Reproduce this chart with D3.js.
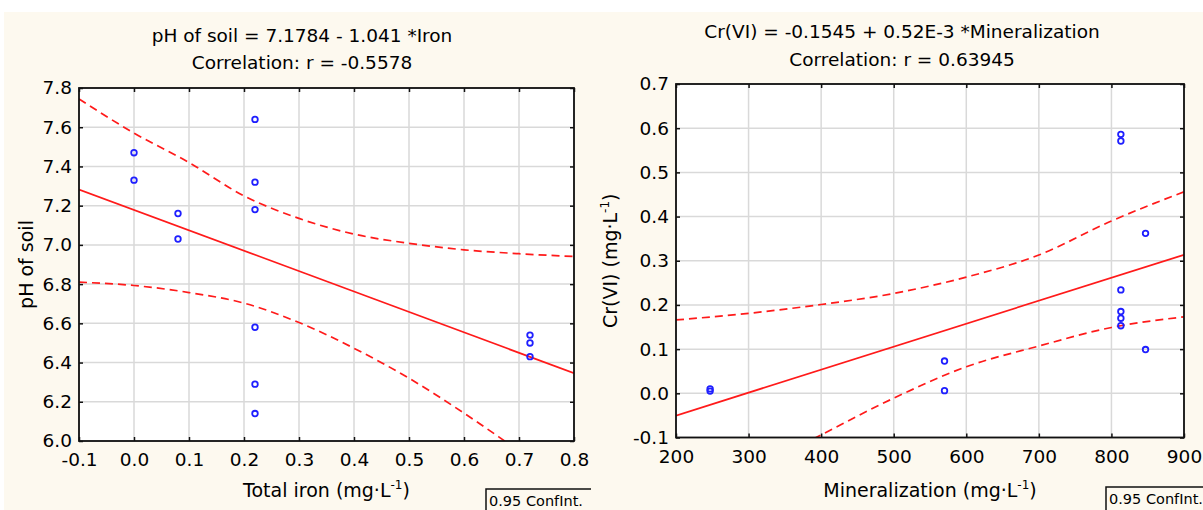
<!DOCTYPE html>
<html>
<head>
<meta charset="utf-8">
<script src="https://cdn.jsdelivr.net/npm/d3@7"></script>
<style>
  body { margin: 0; background: #fff; }
  svg text { font-family: "DejaVu Sans", "Liberation Sans", Arial, sans-serif; fill: #000; }
</style>
</head>
<body>
<div id="chart-area"></div>
<script>
// ---- left panel: pH of soil vs total iron ----
const ironX = [0, 0, 0.08, 0.08, 0.22, 0.22, 0.22, 0.22, 0.22, 0.22, 0.72, 0.72, 0.72]
const phY = [7.47, 7.33, 7.16, 7.03, 7.64, 7.32, 7.18, 6.58, 6.29, 6.14, 6.54, 6.50, 6.43]
const phFit = [7.1784, -1.041]   // intercept, slope
const phBandX = [-0.1, 0, 0.1, 0.2, 0.3, 0.4, 0.5, 0.6, 0.7, 0.8]
const phUpper = [7.744, 7.57, 7.42, 7.25, 7.135, 7.055, 7.008, 6.975, 6.955, 6.941]
const phLower = [6.81, 6.793, 6.757, 6.703, 6.604, 6.473, 6.32, 6.142, 5.95, 5.76]
const phXTicks = [-0.1, 0, 0.1, 0.2, 0.3, 0.4, 0.5, 0.6, 0.7, 0.8]
const phYTicks = [6.0, 6.2, 6.4, 6.6, 6.8, 7.0, 7.2, 7.4, 7.6, 7.8]

// ---- right panel: Cr(VI) vs mineralization ----
const mineralX = [247, 247, 570, 570, 813, 813, 813, 813, 813, 813, 847, 847]
const crY = [0.005, 0.010, 0.073, 0.006, 0.586, 0.571, 0.234, 0.185, 0.170, 0.153, 0.362, 0.099]
const crFit = [-0.1545, 0.00052]
const crBandX = [200, 300, 400, 500, 600, 700, 800, 900]
const crUpper = [0.166, 0.181, 0.201, 0.226, 0.263, 0.313, 0.39, 0.456]
const crLower = [-0.27, -0.178, -0.094, -0.011, 0.060, 0.107, 0.149, 0.173]
const crXTicks = [200, 300, 400, 500, 600, 700, 800, 900]
const crYTicks = [-0.1, 0, 0.1, 0.2, 0.3, 0.4, 0.5, 0.6, 0.7]

const W = 1203, H = 510
const FONT = "DejaVu Sans, Liberation Sans, Arial, sans-serif"
const svg = d3.select("#chart-area").append("svg")
  .attr("width", W)
  .attr("height", H)

svg.append("rect")
  .attr("x", 4).attr("y", 12)
  .attr("width", W - 4).attr("height", H - 12)
  .attr("fill", "#fdf9ef")

// text with a "-1" superscript unit
function unitText(sel, before) {
  sel.append("tspan").text(before + " (mg·L")
  sel.append("tspan").attr("dy", -8).attr("font-size", 12).text("-1")
  sel.append("tspan").attr("dy", 8).text(")")
}

function drawPanel(p) {
  const x = d3.scaleLinear().domain(p.xDomain).range([p.left, p.right])
  const y = d3.scaleLinear().domain(p.yDomain).range([p.bottom, p.top])

  // titles
  svg.append("text")
    .attr("x", p.titleX).attr("y", p.titleY[0])
    .attr("text-anchor", "middle").attr("font-size", 18.5)
    .text(p.title)
  svg.append("text")
    .attr("x", p.titleX).attr("y", p.titleY[1])
    .attr("text-anchor", "middle").attr("font-size", 18.5)
    .text(p.subtitle)

  // plot background
  svg.append("rect")
    .attr("x", p.left).attr("y", p.top)
    .attr("width", p.right - p.left).attr("height", p.bottom - p.top)
    .attr("fill", "#fff")

  // gridlines
  const grid = svg.append("g").attr("stroke", "#d9d9d9").attr("stroke-width", 1.5)
  grid.selectAll(".vx").data(p.xTicks).enter().append("line")
    .attr("x1", d => x(d)).attr("x2", d => x(d))
    .attr("y1", p.top).attr("y2", p.bottom)
  grid.selectAll(".hy").data(p.yTicks).enter().append("line")
    .attr("y1", d => y(d)).attr("y2", d => y(d))
    .attr("x1", p.left).attr("x2", p.right)

  // axes with inward ticks
  const axes = [
    [d3.axisBottom(x).tickValues(p.xTicks).tickFormat(p.xFmt).tickPadding(12), `translate(0, ${p.bottom})`],
    [d3.axisTop(x).tickValues(p.xTicks).tickFormat(""), `translate(0, ${p.top})`],
    [d3.axisLeft(y).tickValues(p.yTicks).tickFormat(p.yFmt).tickPadding(7), `translate(${p.left}, 0)`],
    [d3.axisRight(y).tickValues(p.yTicks).tickFormat(""), `translate(${p.right}, 0)`]
  ]
  axes.forEach(([ax, tr]) => {
    const g = svg.append("g")
      .attr("transform", tr)
      .call(ax.tickSizeInner(-4).tickSizeOuter(0))
    g.select(".domain").remove()
    g.selectAll("line").attr("stroke", "#111").attr("stroke-width", 1.5)
    g.selectAll("text")
      .attr("font-size", 18.5)
      .attr("font-family", FONT)
      .attr("fill", "#000")
  })

  // clip region
  const clipId = "clip-" + p.id
  svg.append("clipPath").attr("id", clipId)
    .append("rect")
    .attr("x", p.left).attr("y", p.top)
    .attr("width", p.right - p.left).attr("height", p.bottom - p.top)
  const plot = svg.append("g").attr("clip-path", `url(#${clipId})`)

  // confidence bands
  const band = d3.line()
    .x(d => x(d[0]))
    .y(d => y(d[1]))
    .curve(d3.curveMonotoneX)
  ;[p.upper, p.lower].forEach(vals => {
    plot.append("path")
      .datum(p.bandX.map((v, i) => [v, vals[i]]))
      .attr("d", band)
      .attr("fill", "none")
      .attr("stroke", "#ff1a1a")
      .attr("stroke-width", 1.7)
      .attr("stroke-dasharray", "8,5")
  })

  // regression line
  plot.append("path")
    .datum(p.xDomain.map(v => [v, p.fit[0] + p.fit[1] * v]))
    .attr("d", band.curve(d3.curveLinear))
    .attr("fill", "none")
    .attr("stroke", "#ff1a1a")
    .attr("stroke-width", 1.7)

  // points
  plot.selectAll("circle")
    .data(p.px.map((v, i) => [v, p.py[i]]))
    .enter().append("circle")
    .attr("cx", d => x(d[0]))
    .attr("cy", d => y(d[1]))
    .attr("r", 2.8)
    .attr("fill", "none")
    .attr("stroke", "#1f1fff")
    .attr("stroke-width", 1.8)

  // frame
  svg.append("rect")
    .attr("x", p.left).attr("y", p.top)
    .attr("width", p.right - p.left).attr("height", p.bottom - p.top)
    .attr("fill", "none")
    .attr("stroke", "#111")
    .attr("stroke-width", 1.8)

  // axis titles
  svg.append("text")
    .attr("x", (p.left + p.right) / 2).attr("y", 497)
    .attr("text-anchor", "middle").attr("font-size", 19)
    .call(unitText, p.xLabel)

  const yl = svg.append("text")
    .attr("transform", `translate(${p.yLabelX}, ${(p.top + p.bottom) / 2}) rotate(-90)`)
    .attr("text-anchor", "middle").attr("font-size", 19)
  if (p.yUnit) yl.call(unitText, p.yLabel)
  else yl.text(p.yLabel)

  // legend box
  svg.append("path")
    .attr("d", `M${p.legend[0]},${H} V${p.legend[1]} H${p.legend[2]}`)
    .attr("fill", "none")
    .attr("stroke", "#111")
    .attr("stroke-width", 1.5)
  svg.append("text")
    .attr("x", p.legend[0] + 3).attr("y", p.legend[3])
    .attr("font-size", 14.5)
    .text("0.95 ConfInt.")
}

const fmt1 = d => d.toFixed(1)

drawPanel({
  id: "ph",
  left: 79, right: 574, top: 88, bottom: 441,
  xDomain: [-0.1, 0.8], yDomain: [6.0, 7.8],
  xTicks: phXTicks, yTicks: phYTicks, xFmt: fmt1, yFmt: fmt1,
  px: ironX, py: phY, fit: phFit,
  bandX: phBandX, upper: phUpper, lower: phLower,
  title: "pH of soil = 7.1784 - 1.041 *Iron",
  subtitle: "Correlation: r = -0.5578",
  titleX: 302, titleY: [42, 69],
  xLabel: "Total iron", yLabel: "pH of soil", yUnit: false, yLabelX: 33,
  legend: [486, 489, 591, 506]
})

drawPanel({
  id: "cr",
  left: 676, right: 1184, top: 84, bottom: 437.5,
  xDomain: [200, 900], yDomain: [-0.1, 0.7],
  xTicks: crXTicks, yTicks: crYTicks, xFmt: d => String(d), yFmt: fmt1,
  px: mineralX, py: crY, fit: crFit,
  bandX: crBandX, upper: crUpper, lower: crLower,
  title: "Cr(VI) = -0.1545 + 0.52E-3 *Mineralization",
  subtitle: "Correlation: r = 0.63945",
  titleX: 902, titleY: [38, 66],
  xLabel: "Mineralization", yLabel: "Cr(VI)", yUnit: true, yLabelX: 617,
  legend: [1106, 487, 1210, 503.5]
})
</script>
</body>
</html>
